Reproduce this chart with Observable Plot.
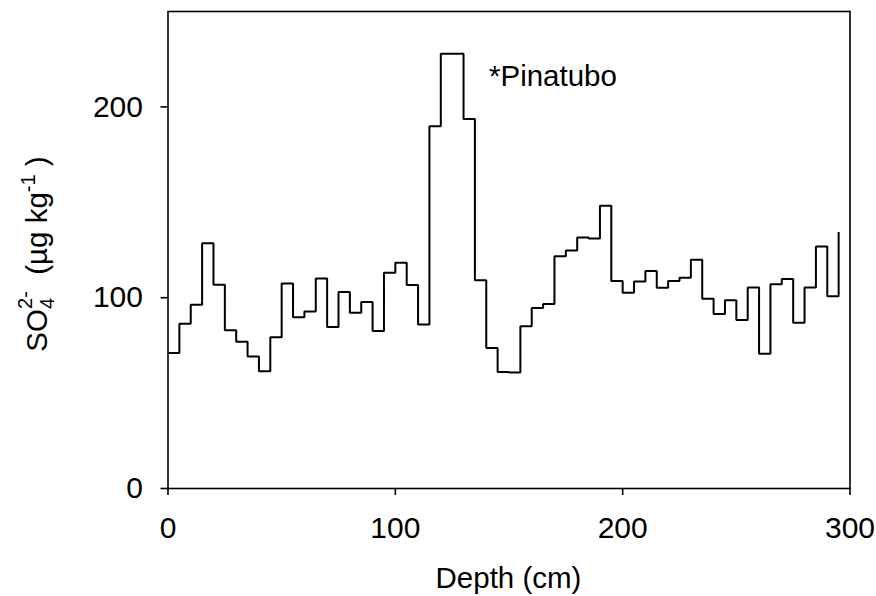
<!DOCTYPE html>
<html><head><meta charset="utf-8">
<script src="https://cdn.jsdelivr.net/npm/d3@7"></script>
<script src="https://cdn.jsdelivr.net/npm/@observablehq/plot@0.6"></script>
<style>body{margin:0;background:#fff}</style>
</head><body><div id="chart"></div>
<script>
const depth = [0,5,10,15,20,25,30,35,40,45,50,55,60,65,70,75,80,85,90,95,100,105,110,115,120,125,130,135,140,145,150,155,160,165,170,175,180,185,190,195,200,205,210,215,220,225,230,235,240,245,250,255,260,265,270,275,280,285,290,295];
const sulfate = [71,86.4,96.3,128.5,106.8,82.9,76.9,69.2,61.5,79.3,107.5,89.7,92.8,110,84.7,103,92.1,97.7,82.5,113.1,118.3,106.6,86,189.8,227.9,227.9,193.7,109.2,73.6,61,60.8,85,94.6,96.7,121.7,124.8,131.5,131,148.2,108.7,102.6,108.5,114,105.2,108.7,110.5,119.9,99.4,91.4,98.6,88.3,105.4,70.6,107.1,109.8,86.9,105.4,126.9,100.8,134.4];
const xTicks = [0,100,200,300];
const yTicks = [0,100,200];
const annotation = [{depth:141.2, value:210.8, text:"*Pinatubo"}];
const xTitle = "Depth (cm)";

const data = depth.map((d,i)=>({depth:d, value:sulfate[i]}));
const font = "'Liberation Sans', Arial, sans-serif";
const chart = Plot.plot({
  width:876, height:596,
  marginLeft:167.5, marginRight:26.5, marginTop:11, marginBottom:108,
  style:{fontFamily:font, fontSize:"30px", color:"#000", background:"#fff"},
  x:{domain:[0,300]},
  y:{domain:[0,250]},
  marks:[
    Plot.line(data,{x:"depth",y:"value",curve:"step-after",stroke:"#000",strokeWidth:2,strokeLinejoin:"miter",strokeLinecap:"butt"}),
    Plot.frame({stroke:"#000",strokeWidth:1.6}),
    Plot.axisX({ticks:xTicks, tickSize:7, tickPadding:21, label:null, fontSize:30, strokeWidth:1.6}),
    Plot.axisY({ticks:yTicks, tickSize:7, tickPadding:18, label:null, fontSize:30, strokeWidth:1.6}),
    Plot.text(annotation,{x:"depth",y:"value",text:"text",textAnchor:"start",lineAnchor:"bottom",fontSize:29.5,fill:"#000"})
  ]
});
document.getElementById("chart").appendChild(chart);

const svg = d3.select(chart);
svg.append("text")
  .attr("x", 508.5).attr("y", 588)
  .attr("text-anchor","middle")
  .attr("font-family", font).attr("font-size", 29.5).attr("fill","#000")
  .text(xTitle);

const yl = svg.append("text")
  .attr("transform","translate(46.5,254) rotate(-90)")
  .attr("text-anchor","middle")
  .attr("font-family", font).attr("font-size", 29.5).attr("fill","#000")
  .attr("xml:space","preserve").style("white-space","pre");
yl.append("tspan").text("SO");
yl.append("tspan").attr("font-size",20).attr("dy",7).text("4");
yl.append("tspan").attr("font-size",20).attr("dx",-11).attr("dy",-22).text("2-");
yl.append("tspan").attr("dy",15).text("  (µg kg");
yl.append("tspan").attr("font-size",20).attr("dy",-12).text("-1");
yl.append("tspan").attr("dy",12).text(" )");
</script>
</body></html>
